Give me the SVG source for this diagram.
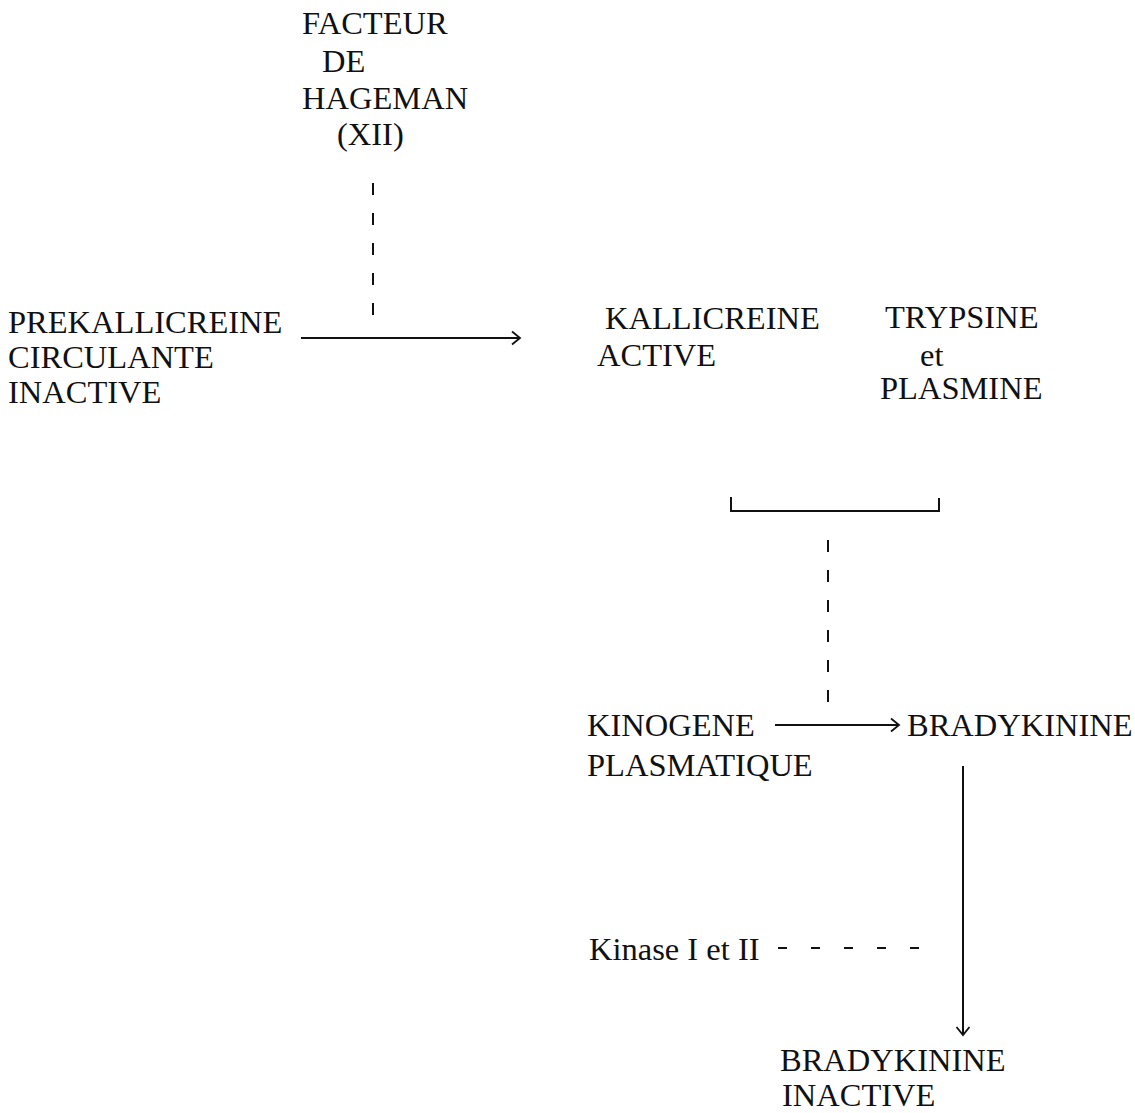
<svg xmlns="http://www.w3.org/2000/svg" width="1135" height="1113" viewBox="0 0 1135 1113">
<style>
text{font-family:"Liberation Serif","Times New Roman",serif;font-size:32.5px;fill:#111}
.ln{stroke:#111;stroke-width:2;fill:none}
.ds{stroke:#111;stroke-width:2;fill:none;stroke-dasharray:12 18}
</style>
<defs>
<marker id="ah" markerWidth="16" markerHeight="16" refX="12" refY="8" orient="auto" markerUnits="userSpaceOnUse">
<path d="M4,1.5 L12,8 L4,14.5" fill="none" stroke="#111" stroke-width="1.8"/>
</marker>
</defs>
<rect width="1135" height="1113" fill="#fff"/>
<g id="hageman">
<text x="302" y="34">FACTEUR</text>
<text x="322" y="72">DE</text>
<text x="302" y="109">HAGEMAN</text>
<text x="337" y="145">(XII)</text>
</g>
<g id="prekallicreine">
<text x="8" y="333">PREKALLICREINE</text>
<text x="8" y="368">CIRCULANTE</text>
<text x="8" y="403">INACTIVE</text>
</g>
<g id="kallicreine">
<text x="605" y="329">KALLICREINE</text>
<text x="597" y="366">ACTIVE</text>
</g>
<g id="trypsine">
<text x="885" y="328">TRYPSINE</text>
<text x="920" y="366">et</text>
<text x="880" y="399">PLASMINE</text>
</g>
<g id="kinogene">
<text x="587" y="736">KINOGENE</text>
<text x="587" y="776">PLASMATIQUE</text>
</g>
<g id="bradykinine">
<text x="907" y="736">BRADYKININE</text>
</g>
<g id="kinase">
<text x="589" y="960">Kinase I et II</text>
</g>
<g id="bradykinine-inactive">
<text x="780" y="1071">BRADYKININE</text>
<text x="782" y="1106">INACTIVE</text>
</g>
<g id="connectors">
<line class="ds" x1="373" y1="183" x2="373" y2="322"/>
<line class="ln" x1="301" y1="338" x2="520" y2="338" marker-end="url(#ah)"/>
<path class="ln" d="M731,497 L731,511 L939,511 L939,498"/>
<line class="ds" x1="828" y1="540" x2="828" y2="702"/>
<line class="ln" x1="775" y1="725" x2="899" y2="725" marker-end="url(#ah)"/>
<line class="ds" style="stroke-dasharray:9 24" x1="778" y1="948" x2="922" y2="948"/>
<line class="ln" x1="963" y1="766" x2="963" y2="1035" marker-end="url(#ah)"/>
</g>
</svg>
